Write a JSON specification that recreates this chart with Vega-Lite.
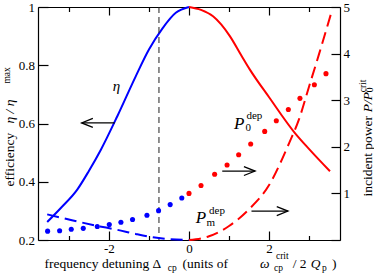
{
  "$schema": "https://vega.github.io/schema/vega-lite/v6.json",
  "width": 302,
  "height": 233,
  "autosize": {"type": "none"},
  "padding": {"left": 38, "top": 7, "right": 34, "bottom": 35},
  "config": {
    "view": {"stroke": null},
    "font": "Liberation Serif, Times New Roman, Times, serif",
    "text": {"font": "Liberation Serif, Times New Roman, Times, serif"},
    "axis": {"labelFont": "Liberation Serif, Times New Roman, Times, serif", "labelFontSize": 13, "labelColor": "#000", "domainColor": "#000", "tickColor": "#000", "domainWidth": 1.2, "tickWidth": 1.2, "grid": false, "title": null}
  },
  "datasets": {
    "eta": [
      {"x": -3.54, "eta": 0.262, "s": "n"}, {"x": -3.2, "eta": 0.31, "s": "n"}, {"x": -2.79, "eta": 0.373, "s": "n"}, {"x": -2.5, "eta": 0.437, "s": "n"}, {"x": -2.2, "eta": 0.51, "s": "n"}, {"x": -1.79, "eta": 0.625, "s": "n"}, {"x": -1.33, "eta": 0.762, "s": "n"}, {"x": -1.0, "eta": 0.854, "s": "n"}, {"x": -0.67, "eta": 0.925, "s": "n"}, {"x": -0.33, "eta": 0.98, "s": "n"}, {"x": 0, "eta": 1.0, "s": "n"},
      {"x": 0, "eta": 1.0, "s": "p"}, {"x": 0.3, "eta": 0.99, "s": "p"}, {"x": 0.6, "eta": 0.968, "s": "p"}, {"x": 1.02, "eta": 0.9, "s": "p"}, {"x": 1.3, "eta": 0.835, "s": "p"}, {"x": 1.52, "eta": 0.785, "s": "p"}, {"x": 2.0, "eta": 0.69, "s": "p"}, {"x": 2.64, "eta": 0.568, "s": "p"}, {"x": 3.0, "eta": 0.512, "s": "p"}, {"x": 3.52, "eta": 0.436, "s": "p"}
    ],
    "dots": [
      {"x": -3.53, "P": 0.19, "s": "n"}, {"x": -3.23, "P": 0.2, "s": "n"}, {"x": -2.94, "P": 0.23, "s": "n"}, {"x": -2.64, "P": 0.25, "s": "n"}, {"x": -2.29, "P": 0.29, "s": "n"}, {"x": -1.99, "P": 0.33, "s": "n"}, {"x": -1.7, "P": 0.38, "s": "n"}, {"x": -1.41, "P": 0.44, "s": "n"}, {"x": -1.05, "P": 0.53, "s": "n"}, {"x": -0.76, "P": 0.63, "s": "n"}, {"x": -0.47, "P": 0.76, "s": "n"}, {"x": -0.18, "P": 0.9, "s": "n"},
      {"x": 0.0, "P": 1.0, "s": "p"}, {"x": 0.3, "P": 1.17, "s": "p"}, {"x": 0.64, "P": 1.41, "s": "p"}, {"x": 0.95, "P": 1.61, "s": "p"}, {"x": 1.24, "P": 1.83, "s": "p"}, {"x": 1.54, "P": 2.06, "s": "p"}, {"x": 1.89, "P": 2.33, "s": "p"}, {"x": 2.18, "P": 2.56, "s": "p"}, {"x": 2.48, "P": 2.8, "s": "p"}, {"x": 2.77, "P": 3.04, "s": "p"}, {"x": 3.13, "P": 3.33, "s": "p"}, {"x": 3.42, "P": 3.57, "s": "p"}
    ],
    "pm": [
      {"x": -3.54, "P": 0.55, "s": "n"}, {"x": -3.0, "P": 0.44, "s": "n"}, {"x": -2.33, "P": 0.31, "s": "n"}, {"x": -1.8, "P": 0.22, "s": "n"}, {"x": -1.33, "P": 0.13, "s": "n"}, {"x": -0.9, "P": 0.06, "s": "n"}, {"x": -0.5, "P": 0.02, "s": "n"}, {"x": 0, "P": 0, "s": "n"},
      {"x": 0, "P": 0, "s": "p"}, {"x": 0.5, "P": 0.08, "s": "p"}, {"x": 1.0, "P": 0.3, "s": "p"}, {"x": 1.5, "P": 0.66, "s": "p"}, {"x": 2.0, "P": 1.18, "s": "p"}, {"x": 2.5, "P": 2.08, "s": "p"}, {"x": 2.75, "P": 2.6, "s": "p"}, {"x": 3.0, "P": 3.3, "s": "p"}, {"x": 3.25, "P": 4.0, "s": "p"}, {"x": 3.54, "P": 4.84, "s": "p"}
    ],
    "arrows": [
      {"x1": -2.68, "x2": -1.855, "y": 0.602, "g": "eta"},
      {"x1": 0.83, "x2": 1.65, "y": 1.48, "g": "P"},
      {"x1": 1.56, "x2": 2.47, "y": 0.62, "g": "P"}
    ],
    "labels": [
      {"t": "η", "x": -1.905, "y": 0.713, "k": "annEta"},
      {"t": "frequency detuning Δ", "x": -3.605, "y": 0.105, "k": "tU"},
      {"t": "(units of", "x": -0.16, "y": 0.105, "k": "tU"},
      {"t": "/ 2", "x": 2.59, "y": 0.105, "k": "tU"},
      {"t": ")", "x": 3.57, "y": 0.105, "k": "tU"},
      {"t": "ω", "x": 1.77, "y": 0.105, "k": "tI"},
      {"t": "Q", "x": 3.04, "y": 0.105, "k": "tI"},
      {"t": "cp", "x": -0.53, "y": 0.093, "k": "tS"},
      {"t": "cp", "x": 2.12, "y": 0.093, "k": "tS"},
      {"t": "p", "x": 3.32, "y": 0.093, "k": "tS"},
      {"t": "crit", "x": 2.17, "y": 0.134, "k": "tS"},
      {"t": "efficiency", "x": -4.358, "y": 0.384, "k": "rU"},
      {"t": "η / η", "x": -4.358, "y": 0.6, "k": "rI"},
      {"t": "max", "x": -4.47, "y": 0.737, "k": "rS"},
      {"t": "P", "x": 1.125, "y": 2.386, "k": "pI"},
      {"t": "P", "x": 0.17, "y": 0.375, "k": "pI"},
      {"t": "0", "x": 1.41, "y": 2.335, "k": "pS"},
      {"t": "dep", "x": 1.435, "y": 2.6, "k": "pS"},
      {"t": "m", "x": 0.435, "y": 0.31, "k": "pS"},
      {"t": "dep", "x": 0.5, "y": 0.56, "k": "pS"},
      {"t": "incident power", "x": 4.56, "y": 0.933, "k": "qU"},
      {"t": "P/P", "x": 4.56, "y": 2.74, "k": "qI"},
      {"t": "0", "x": 4.6, "y": 3.17, "k": "qS"},
      {"t": "crit", "x": 4.42, "y": 3.17, "k": "qS"}
    ]
  },
  "resolve": {"scale": {"y": "independent"}, "axis": {"x": "independent"}},
  "layer": [
    {
      "layer": [
        {
          "data": {"name": "eta"},
          "mark": {"type": "line", "strokeWidth": 2, "interpolate": "monotone"},
          "encoding": {
            "x": {"field": "x", "type": "quantitative", "scale": {"domain": [-3.77, 3.77], "nice": false, "zero": false},
              "axis": {"orient": "bottom", "values": [-3, -2, -1, 0, 1, 2, 3], "labelExpr": "datum.value % 2 === 0 ? '' + datum.value : ''", "tickSize": {"condition": {"test": "datum.value % 2 === 0", "value": -9}, "value": -4.5}, "labelPadding": 11}},
            "y": {"field": "eta", "type": "quantitative", "scale": {"domain": [0.2, 1], "nice": false, "zero": false},
              "axis": {"orient": "left", "values": [0.2, 0.3, 0.4, 0.5, 0.6, 0.7, 0.8, 0.9, 1.0], "labelExpr": "round(datum.value * 10) % 2 === 0 ? format(datum.value, '~g') : ''", "tickSize": {"condition": {"test": "round(datum.value * 10) % 2 === 0", "value": -10}, "value": -5.5}, "labelPadding": 13.5}},
            "color": {"field": "s", "type": "nominal", "scale": {"domain": ["n", "p"], "range": ["#0000ff", "#ff0000"]}, "legend": null}
          }
        },
        {
          "data": {"values": [{"x": -0.75}]},
          "mark": {"type": "rule", "color": "#222222", "strokeWidth": 1, "strokeDash": [6, 4]},
          "encoding": {"x": {"field": "x", "type": "quantitative"}}
        },
        {
          "data": {"name": "arrows"},
          "transform": [{"filter": "datum.g === 'eta'"}],
          "mark": {"type": "rule", "color": "#000", "strokeWidth": 1.3},
          "encoding": {"x": {"field": "x1", "type": "quantitative"}, "x2": {"field": "x2"}, "y": {"field": "y", "type": "quantitative"}}
        },
        {
          "data": {"name": "arrows"},
          "transform": [{"filter": "datum.g === 'eta'"}],
          "mark": {"type": "point", "shape": "M1,-0.4L0,0L1,0.4", "size": 500, "filled": false, "color": "#000", "strokeWidth": 1.3, "opacity": 1},
          "encoding": {"x": {"field": "x1", "type": "quantitative"}, "y": {"field": "y", "type": "quantitative"}}
        },
        {
          "data": {"name": "labels"},
          "transform": [{"filter": "datum.k === 'annEta'"}],
          "mark": {"type": "text", "fontSize": 15, "fontStyle": "italic", "align": "left", "baseline": "alphabetic", "color": "#000"},
          "encoding": {"x": {"field": "x", "type": "quantitative"}, "y": {"field": "y", "type": "quantitative"}, "text": {"field": "t"}}
        },
        {
          "data": {"name": "labels"},
          "transform": [{"filter": "datum.k === 'tU'"}],
          "mark": {"type": "text", "fontSize": 13.5, "align": "left", "baseline": "alphabetic", "color": "#000"},
          "encoding": {"x": {"field": "x", "type": "quantitative"}, "y": {"field": "y", "type": "quantitative"}, "text": {"field": "t"}}
        },
        {
          "data": {"name": "labels"},
          "transform": [{"filter": "datum.k === 'tI'"}],
          "mark": {"type": "text", "fontSize": 13.5, "fontStyle": "italic", "align": "left", "baseline": "alphabetic", "color": "#000"},
          "encoding": {"x": {"field": "x", "type": "quantitative"}, "y": {"field": "y", "type": "quantitative"}, "text": {"field": "t"}}
        },
        {
          "data": {"name": "labels"},
          "transform": [{"filter": "datum.k === 'tS'"}],
          "mark": {"type": "text", "fontSize": 9.5, "align": "left", "baseline": "alphabetic", "color": "#000"},
          "encoding": {"x": {"field": "x", "type": "quantitative"}, "y": {"field": "y", "type": "quantitative"}, "text": {"field": "t"}}
        },
        {
          "data": {"name": "labels"},
          "transform": [{"filter": "datum.k === 'rU'"}],
          "mark": {"type": "text", "fontSize": 13.5, "angle": 270, "align": "left", "baseline": "alphabetic", "color": "#000"},
          "encoding": {"x": {"field": "x", "type": "quantitative"}, "y": {"field": "y", "type": "quantitative"}, "text": {"field": "t"}}
        },
        {
          "data": {"name": "labels"},
          "transform": [{"filter": "datum.k === 'rI'"}],
          "mark": {"type": "text", "fontSize": 13.5, "fontStyle": "italic", "angle": 270, "align": "left", "baseline": "alphabetic", "color": "#000"},
          "encoding": {"x": {"field": "x", "type": "quantitative"}, "y": {"field": "y", "type": "quantitative"}, "text": {"field": "t"}}
        },
        {
          "data": {"name": "labels"},
          "transform": [{"filter": "datum.k === 'rS'"}],
          "mark": {"type": "text", "fontSize": 9.5, "angle": 270, "align": "left", "baseline": "alphabetic", "color": "#000"},
          "encoding": {"x": {"field": "x", "type": "quantitative"}, "y": {"field": "y", "type": "quantitative"}, "text": {"field": "t"}}
        }
      ]
    },
    {
      "layer": [
        {
          "data": {"name": "dots"},
          "mark": {"type": "point", "filled": true, "size": 26, "strokeWidth": 0, "opacity": 1},
          "encoding": {
            "x": {"field": "x", "type": "quantitative", "scale": {"domain": [-3.77, 3.77], "nice": false, "zero": false},
              "axis": {"orient": "top", "values": [-3, -2, -1, 0, 1, 2, 3], "labels": false, "tickSize": {"condition": {"test": "datum.value % 2 === 0", "value": -8}, "value": -4.5}}},
            "y": {"field": "P", "type": "quantitative", "scale": {"domain": [0, 5], "nice": false, "zero": false},
              "axis": {"orient": "right", "values": [0, 0.5, 1, 1.5, 2, 2.5, 3, 3.5, 4, 4.5, 5], "labelExpr": "datum.value % 1 === 0 && datum.value > 0 ? '' + datum.value : ''", "tickSize": {"condition": {"test": "datum.value % 1 === 0", "value": -9}, "value": -5}, "labelPadding": 12}},
            "color": {"field": "s", "type": "nominal", "scale": {"domain": ["n", "p"], "range": ["#0000ff", "#ff0000"]}, "legend": null}
          }
        },
        {
          "data": {"name": "pm"},
          "mark": {"type": "line", "strokeWidth": 2, "strokeDash": [12, 6], "interpolate": "monotone"},
          "encoding": {
            "x": {"field": "x", "type": "quantitative"},
            "y": {"field": "P", "type": "quantitative"},
            "color": {"field": "s", "type": "nominal", "legend": null}
          }
        },
        {
          "data": {"name": "arrows"},
          "transform": [{"filter": "datum.g === 'P'"}],
          "mark": {"type": "rule", "color": "#000", "strokeWidth": 1.3},
          "encoding": {"x": {"field": "x1", "type": "quantitative"}, "x2": {"field": "x2"}, "y": {"field": "y", "type": "quantitative"}}
        },
        {
          "data": {"name": "arrows"},
          "transform": [{"filter": "datum.g === 'P'"}],
          "mark": {"type": "point", "shape": "M-1,-0.4L0,0L-1,0.4", "size": 500, "filled": false, "color": "#000", "strokeWidth": 1.3, "opacity": 1},
          "encoding": {"x": {"field": "x2", "type": "quantitative"}, "y": {"field": "y", "type": "quantitative"}}
        },
        {
          "data": {"name": "labels"},
          "transform": [{"filter": "datum.k === 'pI'"}],
          "mark": {"type": "text", "fontSize": 17, "fontStyle": "italic", "align": "left", "baseline": "alphabetic", "color": "#000"},
          "encoding": {"x": {"field": "x", "type": "quantitative"}, "y": {"field": "y", "type": "quantitative"}, "text": {"field": "t"}}
        },
        {
          "data": {"name": "labels"},
          "transform": [{"filter": "datum.k === 'pS'"}],
          "mark": {"type": "text", "fontSize": 11, "align": "left", "baseline": "alphabetic", "color": "#000"},
          "encoding": {"x": {"field": "x", "type": "quantitative"}, "y": {"field": "y", "type": "quantitative"}, "text": {"field": "t"}}
        },
        {
          "data": {"name": "labels"},
          "transform": [{"filter": "datum.k === 'qU'"}],
          "mark": {"type": "text", "fontSize": 13.5, "angle": 270, "align": "left", "baseline": "alphabetic", "color": "#000"},
          "encoding": {"x": {"field": "x", "type": "quantitative"}, "y": {"field": "y", "type": "quantitative"}, "text": {"field": "t"}}
        },
        {
          "data": {"name": "labels"},
          "transform": [{"filter": "datum.k === 'qI'"}],
          "mark": {"type": "text", "fontSize": 13.5, "fontStyle": "italic", "angle": 270, "align": "left", "baseline": "alphabetic", "color": "#000"},
          "encoding": {"x": {"field": "x", "type": "quantitative"}, "y": {"field": "y", "type": "quantitative"}, "text": {"field": "t"}}
        },
        {
          "data": {"name": "labels"},
          "transform": [{"filter": "datum.k === 'qS'"}],
          "mark": {"type": "text", "fontSize": 9.5, "angle": 270, "align": "left", "baseline": "alphabetic", "color": "#000"},
          "encoding": {"x": {"field": "x", "type": "quantitative"}, "y": {"field": "y", "type": "quantitative"}, "text": {"field": "t"}}
        }
      ]
    }
  ]
}
